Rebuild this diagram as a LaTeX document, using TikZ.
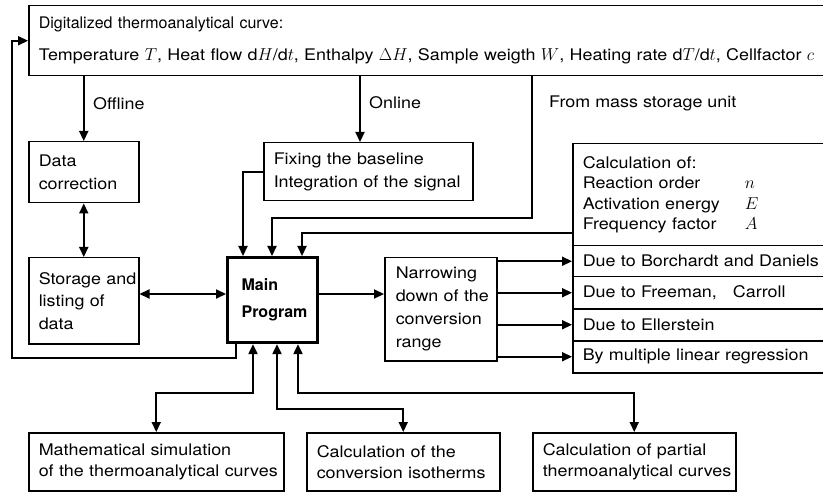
\documentclass[tikz,border=0pt]{standalone}
\usepackage{fontspec}
\usetikzlibrary{arrows.meta,calc}
\newfontfamily\hf[FakeStretch=1.12]{TeX Gyre Heros}
\newfontfamily\hft[FakeStretch=1.0]{TeX Gyre Heros}
\begin{document}
\begin{tikzpicture}[x=1pt,y=-1pt,
  box/.style={draw, line width=1.5pt, anchor=north west, inner xsep=10pt, inner ysep=0pt, align=left,
    font=\hf\fontsize{16}{22.5}\selectfont},
  arr/.style={line width=2.2pt, -{Triangle[length=10pt,width=9pt]}},
  darr/.style={line width=2.2pt, {Triangle[length=10pt,width=9pt]}-{Triangle[length=10pt,width=9pt]}},
  lbl/.style={anchor=west, inner sep=0pt, font=\hf\fontsize{16}{20}\selectfont}]
\useasboundingbox (0,0) rectangle (823,492);

% boxes
\node[box, minimum width=800pt, minimum height=70pt, text width=780pt,
      font=\hf\fontsize{16}{32}\selectfont] (top) at (28,5)
  {\mbox{\hft Digitalized thermoanalytical curve:}\\
   \mbox{Temperature $T$, Heat flow d$H$/d$t$, Enthalpy $\Delta H$, Sample weigth $W$, Heating rate d$T$/d$t$, Cellfactor $c$}};
\node[box, minimum width=110pt, minimum height=61pt, text width=90pt] (datacorr) at (28,141)
  {Data\\correction};
\node[box, minimum width=110pt, minimum height=86pt, text width=90pt] (storage) at (28,257)
  {\mbox{Storage and}\\\mbox{listing of}\\data};
\node[box, line width=3.2pt, minimum width=90pt, minimum height=85pt, text width=62pt, inner xsep=14pt,
      font=\hft\bfseries\fontsize{16}{27}\selectfont] (main) at (226,256)
  {Main\\Program};
\node[box, minimum width=209pt, minimum height=58pt, text width=189pt] (fix) at (263,142)
  {\mbox{Fixing the baseline}\\\mbox{Integration of the signal}};
\node[box, minimum width=112pt, minimum height=103pt, text width=90pt, inner xsep=11pt,
      font=\hf\fontsize{16}{23}\selectfont] (narrow) at (384,257)
  {Narrowing\\\mbox{down of the}\\conversion\\range};
\node[box, minimum width=256pt, minimum height=102pt, text width=236pt,
      font=\hf\fontsize{16}{20.5}\selectfont] (calc) at (572,143)
  {\mbox{Calculation of:}\\
   \makebox[162pt][l]{Reaction order}$n$\\
   \makebox[162pt][l]{Activation energy}$E$\\
   \makebox[162pt][l]{Frequency factor}$A$};
\node[box, minimum width=256pt, minimum height=31pt, text width=236pt] (r1) at (572,245)
  {\mbox{Due to Borchardt and Daniels}};
\node[box, minimum width=256pt, minimum height=32pt, text width=236pt] (r2) at (572,276)
  {\mbox{Due to Freeman,\ \ \ Carroll}};
\node[box, minimum width=256pt, minimum height=32pt, text width=236pt] (r3) at (572,308)
  {\mbox{Due to Ellerstein}};
\node[box, minimum width=256pt, minimum height=32pt, text width=236pt] (r4) at (572,340)
  {\mbox{By multiple linear regression}};
\node[box, minimum width=255pt, minimum height=58pt, text width=235pt,
      font=\hf\fontsize{16}{21}\selectfont] (math) at (28,432)
  {\mbox{Mathematical simulation}\\\mbox{of the thermoanalytical curves}};
\node[box, minimum width=193pt, minimum height=58pt, text width=173pt,
      font=\hf\fontsize{16}{21}\selectfont] (iso) at (306,432)
  {\mbox{Calculation of the}\\\mbox{conversion isotherms}};
\node[box, minimum width=203pt, minimum height=58pt, text width=183pt,
      font=\hf\fontsize{16}{21}\selectfont] (part) at (532,432)
  {\mbox{Calculation of partial}\\\mbox{thermoanalytical curves}};

% labels
\node[lbl] (offl) at (93,104) {Offline};
\node[lbl] (onl) at (369,103) {Online};
\node[lbl] (msu) at (549,103) {From mass storage unit};

% helper coordinates
\coordinate (onx) at (360,0);
\coordinate (msx) at (532,0);
\coordinate (msy) at (0,218);
\coordinate (m1) at (243,0);
\coordinate (m2) at (272,0);
\coordinate (m3) at (302,0);
\coordinate (cy) at (0,233);
\coordinate (lx) at (236,0);
\coordinate (lc) at (12,358);
\coordinate (b1) at (253,0);
\coordinate (b2) at (277,0);
\coordinate (b3) at (298,0);
\coordinate (c1) at (0,393);
\coordinate (c2) at (0,409);
\coordinate (hy) at (0,294);

% connectors
\draw[arr] (datacorr.north |- top.south) -- (datacorr.north);
\draw[arr] (top.south -| onx) -- (fix.north -| onx);
\draw[arr] (top.south -| msx) |- (m2 |- msy) -- (main.north -| m2);
\draw[arr] (fix.west) -| (main.north -| m1);
\draw[arr] (calc.west |- cy) -| (main.north -| m3);
\draw[darr] (datacorr.south) -- (storage.north);
\draw[darr] (storage.east |- hy) -- (main.west |- hy);
\draw[arr] (main.east |- hy) -- (narrow.west |- hy);
\draw[arr] (narrow.east |- r1.west) -- (r1.west);
\draw[arr] (narrow.east |- r2.west) -- (r2.west);
\draw[arr] (narrow.east |- r3.west) -- (r3.west);
\draw[arr] (narrow.east |- r4.west) -- (r4.west);
\draw[arr] (main.south -| lx) |- (lc) |- (top.west);
\draw[darr] (main.south -| b1) |- (math.north |- c1) -- (math.north);
\draw[darr] (main.south -| b2) |- (iso.north |- c2) -- (iso.north);
\draw[darr] (main.south -| b3) |- (part.north |- c1) -- (part.north);
\end{tikzpicture}
\end{document}
